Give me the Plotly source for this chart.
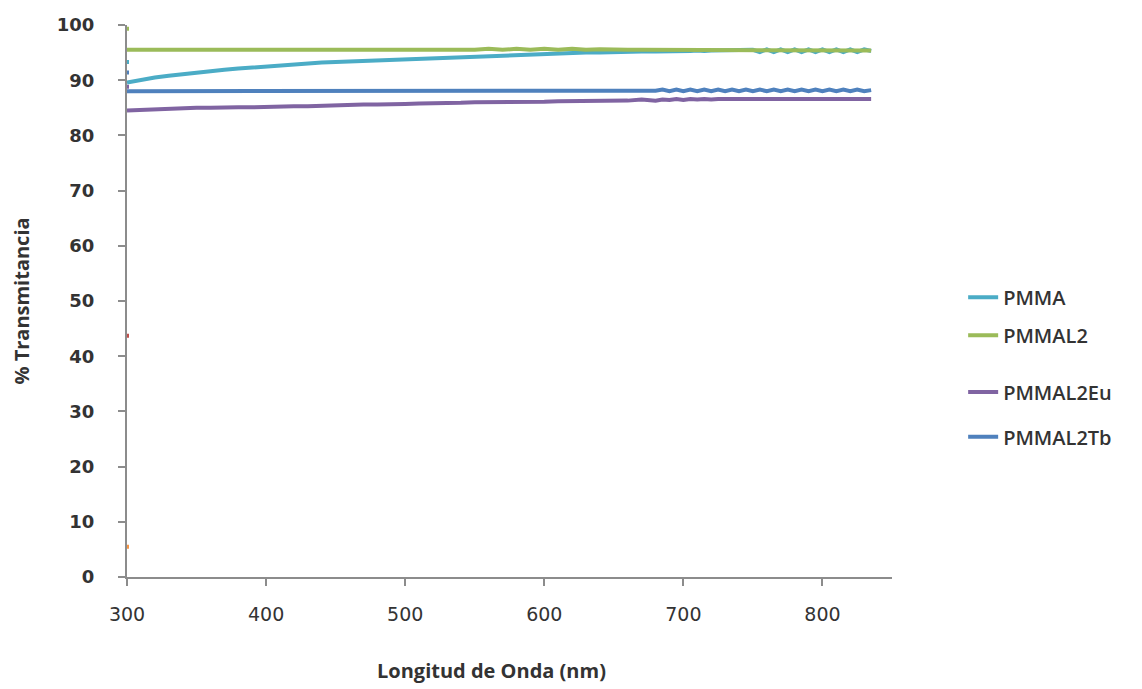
import plotly.graph_objects as go

wavelength = [300, 310, 320, 330, 340, 350, 360, 370, 380, 390, 400, 410, 420, 430, 440, 450,
              460, 470, 480, 490, 500, 510, 520, 530, 540, 550, 560, 570, 580, 590, 600, 610,
              620, 630, 640, 650, 660, 670, 680,
              685, 690, 695, 700, 705, 710, 715, 720, 725, 730, 735, 740, 745, 750, 755, 760,
              765, 770, 775, 780, 785, 790, 795, 800, 805, 810, 815, 820, 825, 830, 835]

pmma = [89.6, 90.1, 90.5, 90.8, 91.1, 91.4, 91.7, 91.9, 92.1, 92.3, 92.5, 92.7, 92.9, 93.0,
        93.2, 93.3, 93.4, 93.5, 93.6, 93.7, 93.8, 93.9, 94.0, 94.1, 94.2, 94.3, 94.4, 94.5,
        94.6, 94.7, 94.8, 94.8, 94.9, 95.0, 95.0, 95.1, 95.1, 95.2, 95.2,
        95.2, 95.3, 95.3, 95.3, 95.3, 95.4, 95.3, 95.4, 95.4, 95.4, 95.4, 95.5, 95.4, 95.5,
        95.1, 95.6, 95.1, 95.6, 95.1, 95.6, 95.1, 95.6, 95.1, 95.6, 95.1, 95.6, 95.1, 95.6,
        95.1, 95.6, 95.3]

pmmal2 = [95.5, 95.5, 95.5, 95.5, 95.5, 95.5, 95.5, 95.6, 95.5, 95.5, 95.5, 95.5, 95.5, 95.5,
          95.5, 95.5, 95.5, 95.5, 95.5, 95.5, 95.5, 95.5, 95.6, 95.5, 95.6, 95.5, 95.7, 95.5,
          95.7, 95.5, 95.7, 95.5, 95.7, 95.5, 95.6, 95.5, 95.5, 95.5, 95.5,
          95.5, 95.5, 95.5, 95.5, 95.5, 95.5, 95.5, 95.5, 95.5, 95.5, 95.5, 95.5, 95.5, 95.5,
          95.5, 95.5, 95.5, 95.5, 95.5, 95.5, 95.5, 95.5, 95.5, 95.5, 95.5, 95.5, 95.5, 95.5,
          95.5, 95.5, 95.4]

pmmal2eu = [84.5, 84.6, 84.8, 84.8, 84.9, 85.0, 85.0, 85.1, 85.1, 85.1, 85.2, 85.3, 85.3, 85.3,
            85.4, 85.5, 85.5, 85.6, 85.6, 85.6, 85.7, 85.8, 85.8, 85.8, 85.9, 86.0, 86.0, 86.0,
            86.1, 86.1, 86.1, 86.2, 86.2, 86.2, 86.3, 86.3, 86.3, 86.5, 86.3,
            86.5, 86.4, 86.6, 86.4, 86.6, 86.5, 86.6, 86.5, 86.6, 86.6, 86.6, 86.6, 86.6, 86.6,
            86.6, 86.6, 86.6, 86.6, 86.6, 86.6, 86.6, 86.6, 86.6, 86.6, 86.6, 86.6, 86.6, 86.6,
            86.6, 86.6, 86.6]

pmmal2tb = [88.0, 88.0, 88.0, 88.0, 88.0, 88.0, 88.1, 88.1, 88.1, 88.0, 88.0, 88.0, 88.0, 88.0,
            88.0, 88.0, 88.0, 88.0, 88.0, 88.0, 88.0, 88.0, 88.0, 88.0, 88.0, 88.0, 88.0, 88.0,
            88.0, 88.0, 88.0, 88.0, 88.0, 88.0, 88.0, 88.0, 88.0, 88.0, 88.1,
            88.3, 88.0, 88.3, 88.0, 88.3, 88.0, 88.3, 88.0, 88.3, 88.0, 88.3, 88.0, 88.3, 88.0,
            88.3, 88.0, 88.3, 88.0, 88.3, 88.0, 88.3, 88.0, 88.3, 88.0, 88.3, 88.0, 88.3, 88.0,
            88.3, 88.0, 88.2]

# isolated first readings at 300 nm
start_x = [300, 300, 300, 300, 300, 300]
start_y = [99.3, 93.3, 91.4, 88.8, 43.7, 5.5]
start_colors = ["#9BBB59", "#4BACC6", "#4F81BD", "#8064A2", "#C0504D", "#F79646"]

names = ["PMMA", "PMMAL2", "PMMAL2Eu", "PMMAL2Tb"]
series = [pmma, pmmal2, pmmal2eu, pmmal2tb]
colors = ["#4BACC6", "#9BBB59", "#8064A2", "#4F81BD"]
legend_ids = ["legend", "legend2", "legend3", "legend4"]
legend_y = [0.507, 0.438, 0.335, 0.254]

fig = go.Figure()
for name, vals, col, lid in zip(names, series, colors, legend_ids):
    fig.add_trace(go.Scatter(x=wavelength, y=vals, mode="lines", name=name,
                             line=dict(color=col, width=4), legend=lid))

fig.add_trace(go.Scatter(x=start_x, y=start_y, mode="markers", showlegend=False,
                         marker=dict(color=start_colors, size=4, symbol="square")))

legend_font = dict(family="Open Sans, Liberation Sans, sans-serif", size=20, color="#333333",
                   weight=600)
layout_legends = {}
for lid, ly in zip(legend_ids, legend_y):
    layout_legends[lid] = dict(x=1.093, y=ly, xanchor="left", yanchor="middle",
                               font=legend_font, bgcolor="rgba(0,0,0,0)",
                               itemwidth=30, tracegroupgap=0)

fig.update_layout(
    width=1134, height=681,
    margin=dict(l=119, r=250, t=17, b=112),
    paper_bgcolor="white", plot_bgcolor="white",
    annotations=[dict(text="<b>Longitud de Onda (nm)</b>", xref="paper", yref="paper",
                      x=0.477, y=-0.170, xanchor="center", yanchor="middle", showarrow=False,
                      font=dict(family="Open Sans, sans-serif", size=20, color="#333333"))],
    **layout_legends,
)

axis_line = dict(showline=True, linecolor="#8C8C8C", linewidth=2, ticks="outside",
                 tickcolor="#8C8C8C", tickwidth=2, ticklen=7, showgrid=False, zeroline=False,
                 automargin=False)

fig.update_xaxes(range=[300, 850], tickvals=[300, 400, 500, 600, 700, 800], **axis_line,
                 ticklabelstandoff=12,
                 tickfont=dict(family="DejaVu Sans, sans-serif", size=19, color="#333333"))
fig.update_yaxes(range=[0, 100], tickvals=list(range(0, 101, 10)), **axis_line,
                 ticklabelstandoff=20,
                 tickfont=dict(family="DejaVu Sans, sans-serif", size=18, color="#333333",
                               weight="bold"),
                 title=dict(text="<b>% Transmitancia</b>", standoff=22,
                            font=dict(family="Open Sans, sans-serif", size=20, color="#333333")))

fig.write_html("out.html")
